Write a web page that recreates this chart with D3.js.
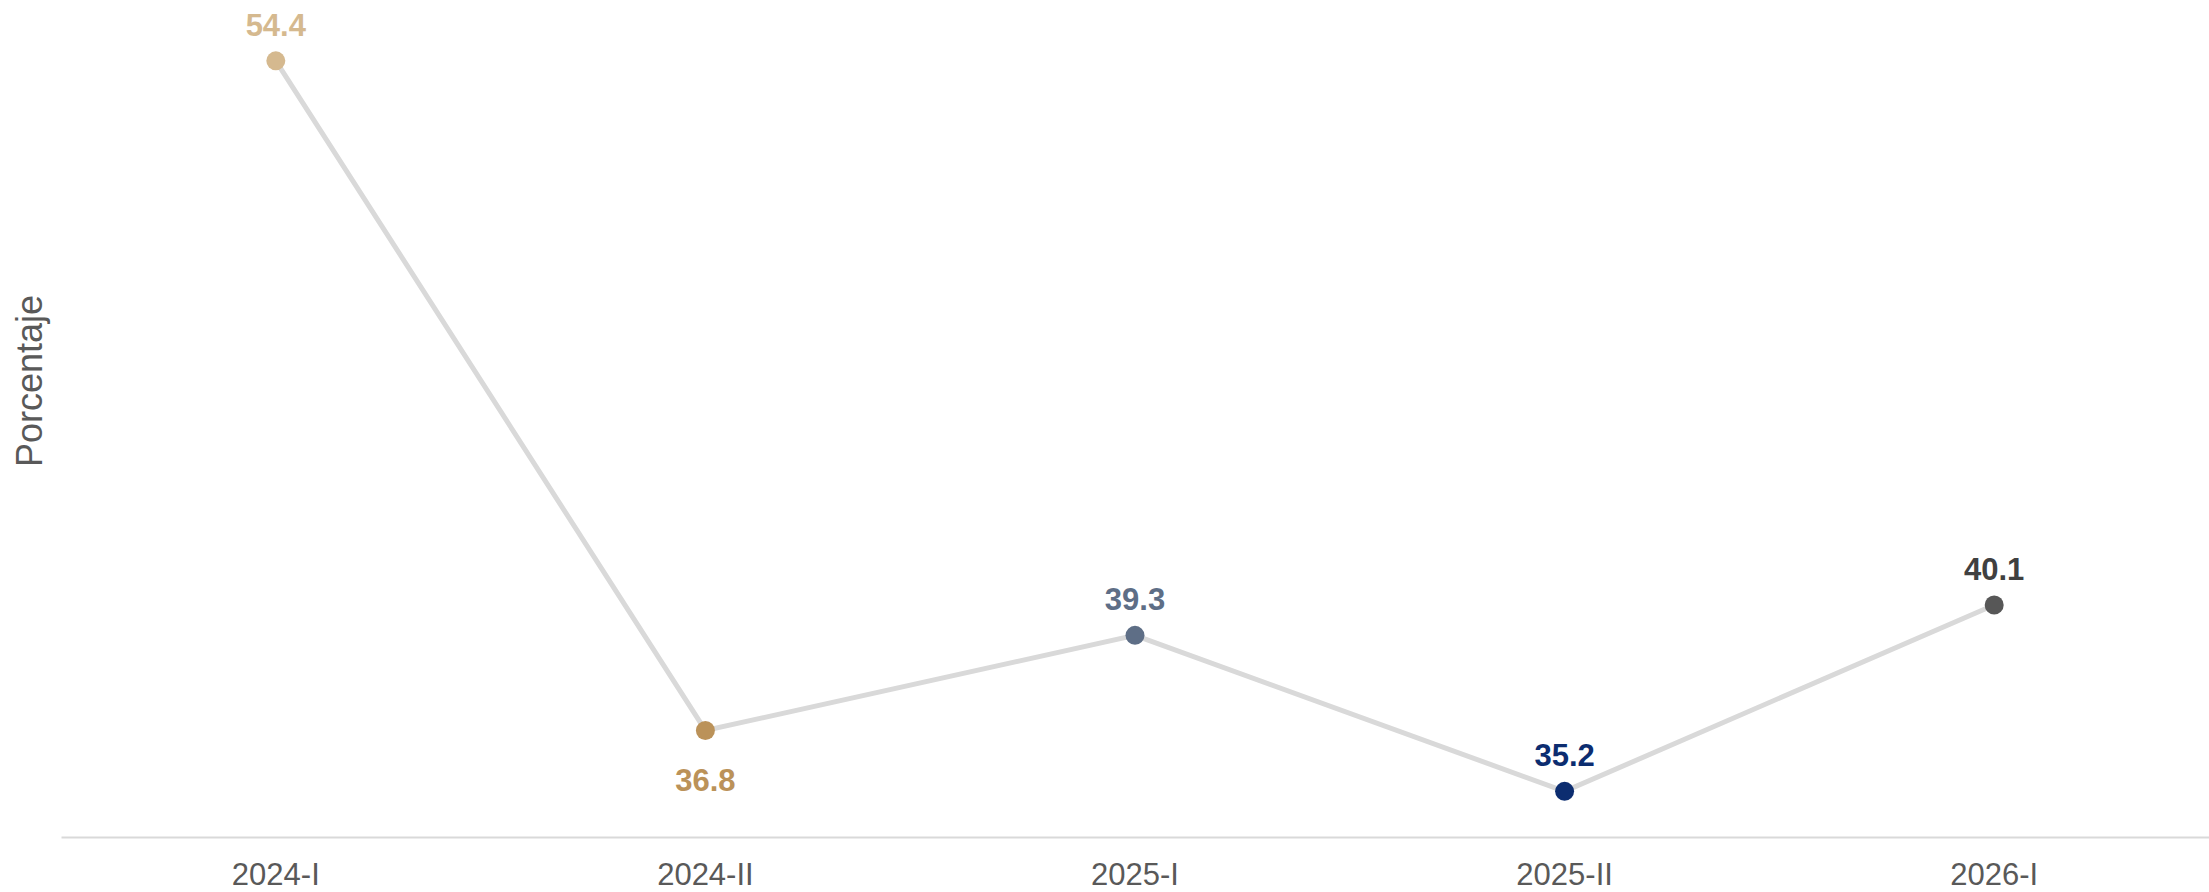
<!DOCTYPE html>
<html>
<head>
<meta charset="utf-8">
<script src="https://cdn.jsdelivr.net/npm/d3@7"></script>
<style>
  body { margin: 0; background: #fff; }
  svg { display: block; font-family: "Liberation Sans", Arial, sans-serif; }
</style>
</head>
<body>
<div id="chart"></div>
<script>
var periods = ["2024-I", "2024-II", "2025-I", "2025-II", "2026-I"];
var values = [54.4, 36.8, 39.3, 35.2, 40.1];
var yDomain = [34, 56];

// one colour per point, label side per point
var dotColors = ["#d5b98f", "#bb9259", "#5e6e86", "#0c2d70", "#575757"];
var labelColors = ["#d5b98f", "#bb9259", "#5e6e86", "#0c2d70", "#404040"];
var labelSide = ["up", "down", "up", "up", "up"];

var width = 2209;
var height = 892;
var margin = {top: 0, left: 61, bottom: 55, right: 0};

var svg = d3.select("#chart").append("svg")
  .attr("width", width)
  .attr("height", height);

var x = d3.scaleBand()
  .domain(periods)
  .range([margin.left, width - margin.right]);

var y = d3.scaleLinear()
  .domain(yDomain)
  .range([height - margin.bottom, margin.top]);

var data = periods.map(function(p, i) {
  return {period: p, value: values[i], i: i};
});

var cx = function(d) { return x(d.period) + x.bandwidth() / 2; };

// x axis
var xAxis = svg.append("g")
  .attr("transform", "translate(0," + y(yDomain[0]) + ")")
  .call(d3.axisBottom(x).tickSize(0).tickPadding(0));

xAxis.select(".domain")
  .attr("stroke", "#d9d9d9")
  .attr("stroke-width", 2);

xAxis.selectAll("text")
  .attr("dy", null)
  .attr("y", 48)
  .attr("fill", "#595959")
  .attr("font-size", "31px")
  .attr("font-family", "Liberation Sans, Arial, sans-serif");

// y title
svg.append("text")
  .attr("transform", "translate(42," + 381 + ") rotate(-90)")
  .attr("text-anchor", "middle")
  .attr("fill", "#595959")
  .attr("font-size", "36px")
  .text("Porcentaje");

// line
var line = d3.line()
  .x(cx)
  .y(function(d) { return y(d.value); });

svg.append("path")
  .datum(data)
  .attr("fill", "none")
  .attr("stroke", "#d9d9d9")
  .attr("stroke-width", 5)
  .attr("d", line);

// dots
svg.selectAll(".dot")
  .data(data)
  .enter()
  .append("circle")
  .attr("class", "dot")
  .attr("cx", cx)
  .attr("cy", function(d) { return y(d.value); })
  .attr("r", 9.5)
  .attr("fill", function(d) { return dotColors[d.i]; });

// value labels
svg.selectAll(".val")
  .data(data)
  .enter()
  .append("text")
  .attr("class", "val")
  .attr("x", cx)
  .attr("y", function(d) {
    return labelSide[d.i] === "up" ? y(d.value) - 25 : y(d.value) + 61;
  })
  .attr("text-anchor", "middle")
  .attr("font-size", "31px")
  .attr("font-weight", "bold")
  .attr("fill", function(d) { return labelColors[d.i]; })
  .text(function(d) { return d3.format(".1f")(d.value); });
</script>
</body>
</html>
